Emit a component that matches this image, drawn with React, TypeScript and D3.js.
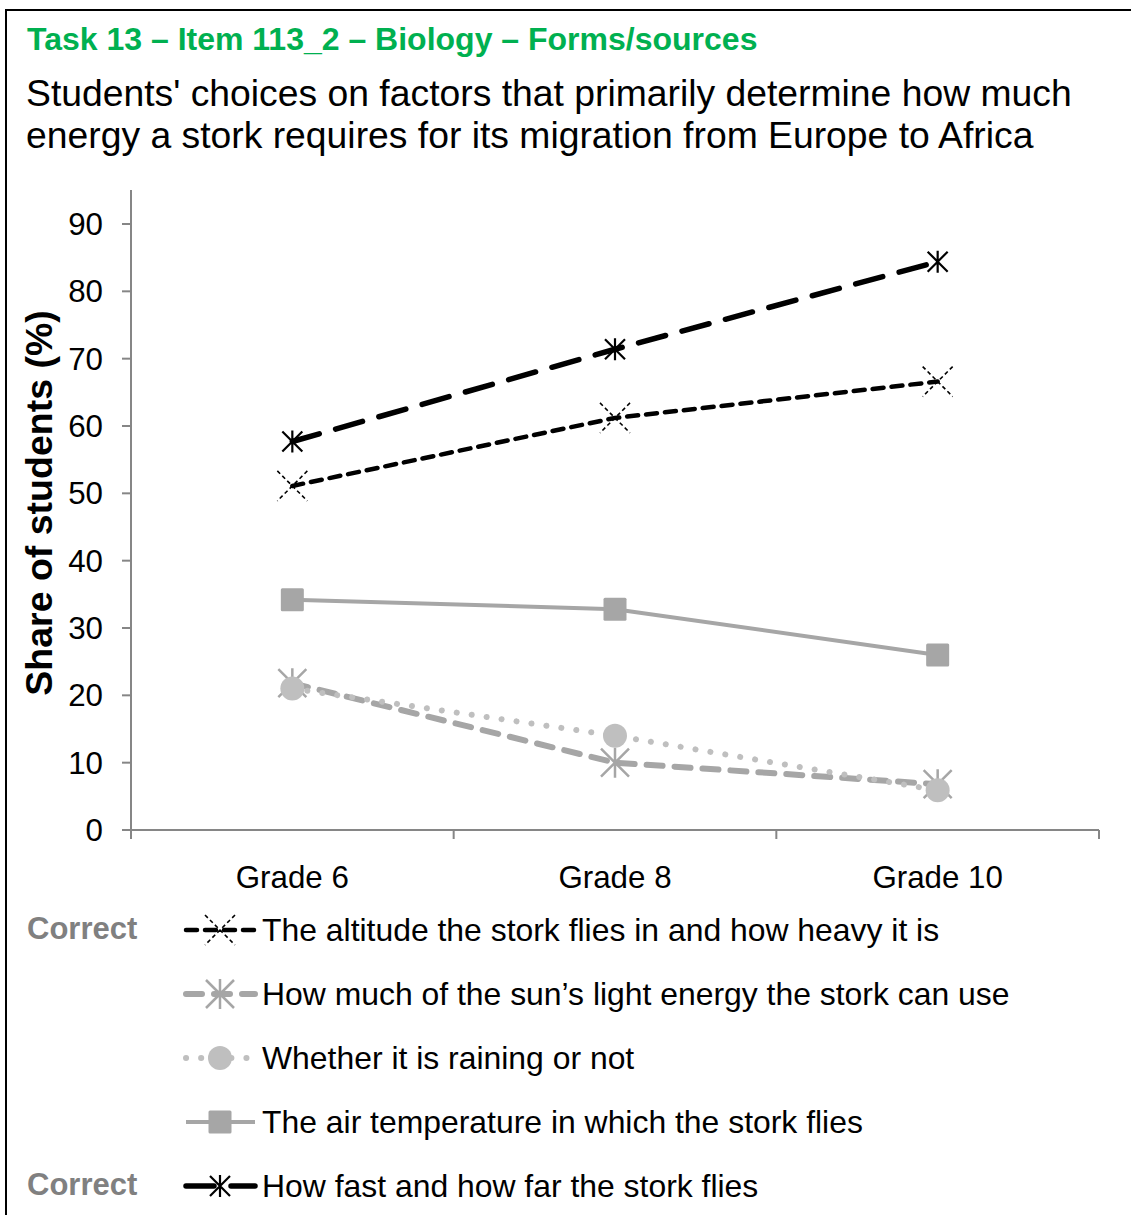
import React from "react";
import * as d3 from "d3";

const grades = ["Grade 6", "Grade 8", "Grade 10"];
const yTicks = [0, 10, 20, 30, 40, 50, 60, 70, 80, 90];

const altitude = [51.1, 61.2, 66.6];
const sunLight = [21.8, 10.0, 6.8];
const raining = [21.0, 14.0, 5.9];
const airTemp = [34.2, 32.8, 26.0];
const fastFar = [57.7, 71.4, 84.4];

const legendLabels = [
  "The altitude the stork flies in and how heavy it is",
  "How much of the sun\u2019s light energy the stork can use",
  "Whether it is raining or not",
  "The air temperature in which the stork flies",
  "How fast and how far the stork flies",
];
const correctFlags = [true, false, false, false, true];

const FONT = "'Liberation Sans', Arial, Helvetica, sans-serif";

type SeriesStyle = {
  key: string;
  values: number[];
  color: string;
  width: number;
  dash: string;
  cap: "round" | "butt";
  marker: "dashX" | "grayStar" | "circle" | "square" | "blackStar";
};

const series: SeriesStyle[] = [
  { key: "altitude", values: altitude, color: "#000000", width: 4.5, dash: "11 8", cap: "round", marker: "dashX" },
  { key: "sun", values: sunLight, color: "#a6a6a6", width: 6, dash: "16 12", cap: "round", marker: "grayStar" },
  { key: "rain", values: raining, color: "#bfbfbf", width: 6, dash: "0.1 15", cap: "round", marker: "circle" },
  { key: "temp", values: airTemp, color: "#a6a6a6", width: 4, dash: "", cap: "butt", marker: "square" },
  { key: "fast", values: fastFar, color: "#000000", width: 5.5, dash: "28 17", cap: "round", marker: "blackStar" },
];

function Marker({ type, cx, cy }: { type: SeriesStyle["marker"]; cx: number; cy: number }) {
  if (type === "dashX") {
    const r = 15;
    return (
      <path
        d={`M${cx - r},${cy - r}L${cx + r},${cy + r}M${cx + r},${cy - r}L${cx - r},${cy + r}`}
        stroke="#000"
        strokeWidth={1.6}
        strokeDasharray="4 3"
        fill="none"
      />
    );
  }
  if (type === "grayStar") {
    const r = 14;
    return (
      <path
        d={`M${cx - r},${cy - r}L${cx + r},${cy + r}M${cx + r},${cy - r}L${cx - r},${cy + r}M${cx},${cy - r - 1}L${cx},${cy + r + 1}`}
        stroke="#a6a6a6"
        strokeWidth={2.5}
        fill="none"
      />
    );
  }
  if (type === "blackStar") {
    const r = 10;
    return (
      <path
        d={`M${cx - r},${cy - r}L${cx + r},${cy + r}M${cx + r},${cy - r}L${cx - r},${cy + r}M${cx},${cy - r - 1}L${cx},${cy + r + 1}`}
        stroke="#000"
        strokeWidth={2.2}
        fill="none"
      />
    );
  }
  if (type === "circle") {
    return <circle cx={cx} cy={cy} r={12} fill="#bfbfbf" />;
  }
  return <rect x={cx - 11.5} y={cy - 11.5} width={23} height={23} rx={1.5} fill="#a6a6a6" />;
}

export default function App() {
  const left = 131;
  const right = 1099;
  const top = 224;
  const bottom = 830;

  const x = d3.scaleBand<string>().domain(grades).range([left, right]).padding(0);
  const y = d3.scaleLinear().domain([0, 90]).range([bottom, top]);
  const cx = (g: string) => (x(g) as number) + x.bandwidth() / 2;

  const line = d3
    .line<number>()
    .x((_, i) => cx(grades[i]))
    .y((v) => y(v));

  const axisColor = "#868686";
  const catEdges = [...grades.map((g) => x(g) as number), right];

  const legendY0 = 930;
  const legendStep = 64;

  return (
    <svg
      width={1131}
      height={1215}
      style={{ position: "absolute", left: 0, top: 0, display: "block", background: "#fff" }}
      fontFamily={FONT}
    >
      <rect x={0} y={0} width={1131} height={1215} fill="#fff" />
      <rect x={6} y={10} width={1140} height={1220} fill="none" stroke="#000" strokeWidth={2} />

      <text x={27} y={50} fontSize={32} fontWeight="bold" fill="#00b050">
        Task 13 – Item 113_2 – Biology – Forms/sources
      </text>
      <text x={26} y={106} fontSize={37.3} fill="#000">
        Students' choices on factors that primarily determine how much
      </text>
      <text x={26} y={148} fontSize={37.3} fill="#000">
        energy a stork requires for its migration from Europe to Africa
      </text>

      {/* y axis label */}
      <text
        transform={`translate(52, 503) rotate(-90)`}
        textAnchor="middle"
        fontSize={37.5}
        fontWeight="bold"
        fill="#000"
      >
        Share of students (%)
      </text>

      {/* axes */}
      <line x1={left} x2={left} y1={190} y2={bottom} stroke={axisColor} strokeWidth={2} />
      {yTicks.map((t) => (
        <g key={t}>
          <line x1={left - 9} x2={left} y1={y(t)} y2={y(t)} stroke={axisColor} strokeWidth={2} />
          <text x={103} y={y(t) + 11} textAnchor="end" fontSize={31.3} fill="#000">
            {t}
          </text>
        </g>
      ))}
      <line x1={left} x2={right} y1={bottom} y2={bottom} stroke={axisColor} strokeWidth={2} />
      {catEdges.map((e, i) => (
        <line key={i} x1={e} x2={e} y1={bottom} y2={bottom + 9} stroke={axisColor} strokeWidth={2} />
      ))}
      {grades.map((g) => (
        <text key={g} x={cx(g)} y={888} textAnchor="middle" fontSize={31.3} fill="#000">
          {g}
        </text>
      ))}

      {/* series */}
      {series.map((s) => (
        <g key={s.key}>
          <path
            d={line(s.values) as string}
            fill="none"
            stroke={s.color}
            strokeWidth={s.width}
            strokeDasharray={s.dash || undefined}
            strokeLinecap={s.cap}
            strokeLinejoin="round"
          />
          {s.values.map((v, i) => (
            <Marker key={i} type={s.marker} cx={cx(grades[i])} cy={y(v)} />
          ))}
        </g>
      ))}

      {/* legend */}
      {series.map((s, i) => {
        const ly = legendY0 + i * legendStep;
        return (
          <g key={s.key}>
            {correctFlags[i] && (
              <text x={27} y={ly + 9} fontSize={31} fontWeight="bold" fill="#808080">
                Correct
              </text>
            )}
            <line
              x1={186}
              x2={255}
              y1={ly}
              y2={ly}
              stroke={s.color}
              strokeWidth={s.width}
              strokeDasharray={s.dash || undefined}
              strokeLinecap={s.cap}
            />
            <Marker type={s.marker} cx={220} cy={ly} />
            <text x={262} y={ly + 11} fontSize={31.9} fill="#000">
              {legendLabels[i]}
            </text>
          </g>
        );
      })}
    </svg>
  );
}
